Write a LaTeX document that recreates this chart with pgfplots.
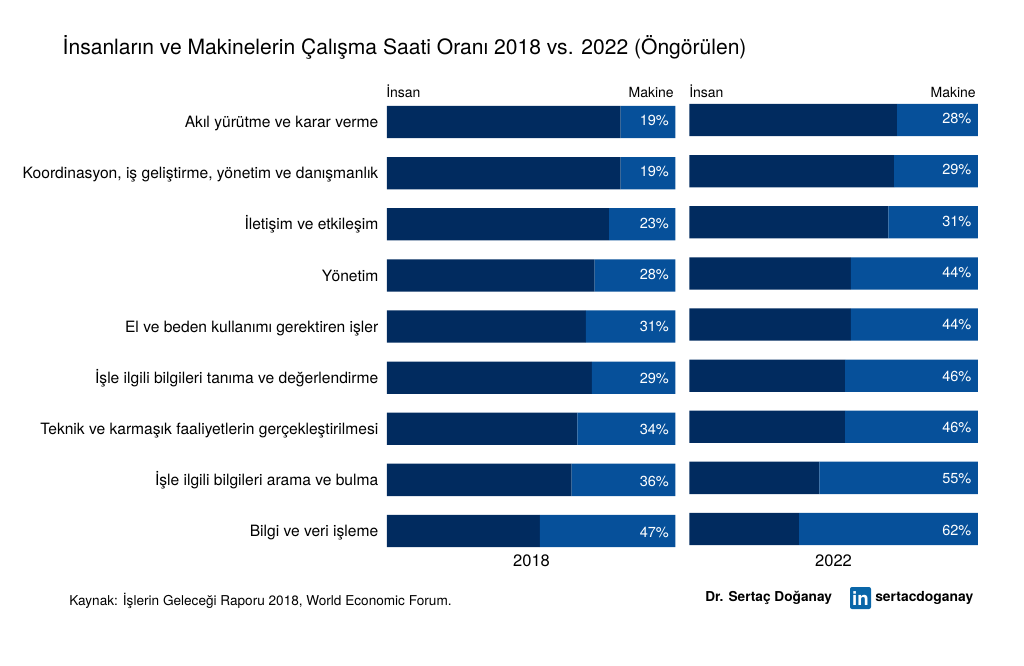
\documentclass[border=0pt]{standalone}
\usepackage{fontspec}
\setmainfont{TeX Gyre Heros}
\usepackage{pgfplots}
\usepackage{pgfplotstable}
\pgfplotsset{compat=1.18}
\definecolor{insan}{HTML}{012B5F}
\definecolor{makine}{HTML}{06509A}
\definecolor{linkedin}{HTML}{0A66A8}

% rows top to bottom; end is a hair-thin segment that carries the label at the bar's right end,
% dy nudges the label vertically (px)
\pgfplotstableread{
row human machine end dy
0 81 19 0.001 -2
1 81 19 0.001 -2
2 77 23 0.001 -1
3 72 28 0.001 -0.5
4 69 31 0.001 0
5 71 29 0.001 0.5
6 66 34 0.001 0.5
7 64 36 0.001 1.3
8 53 47 0.001 1.8
}\dataA
\pgfplotstableread{
row human machine end dy
0 72 28 0.001 -2
1 71 29 0.001 -2
2 69 31 0.001 -1
3 56 44 0.001 -0.7
4 56 44 0.001 0
5 54 46 0.001 0.5
6 54 46 0.001 1
7 45 55 0.001 0.5
8 38 62 0.001 1
}\dataB

\pgfplotsset{
  panel/.style={
    xbar stacked,
    reverse stacked plots=false,
    scale only axis,
    width=216.3pt, height=345pt,
    anchor=north west,
    xmin=0, xmax=100,
    ymin=-0.5, ymax=8.5,
    y dir=reverse,
    bar width=24.2pt,
    axis line style={draw=none},
    major tick length=0pt,
    xtick=\empty,
    clip=false,
  },
  share/.style={
    draw=none, fill=none,
    point meta=explicit,
    visualization depends on={\thisrow{dy} \as \nudge},
    nodes near coords={\pgfmathprintnumber[assume math mode=true]{\pgfplotspointmeta}\%},
    every node near coord/.append style={
      anchor=east, inner sep=0pt, xshift=-4.7pt, yshift={-0.75pt*\nudge},
      text=white, font=\fontsize{10.9}{13}\selectfont,
    },
  },
}

\begin{document}
\begin{tikzpicture}
\path[use as bounding box] (0,0) rectangle (768pt,-498.75pt);

\begin{axis}[panel, at={(290.25pt,-72.4pt)},
  ytick={0,...,8},
  yticklabels={Akıl yürütme ve karar verme,
    {Koordinasyon, iş geliştirme, yönetim ve danışmanlık},
    İletişim ve etkileşim, Yönetim,
    El ve beden kullanımı gerektiren işler,
    İşle ilgili bilgileri tanıma ve değerlendirme,
    Teknik ve karmaşık faaliyetlerin gerçekleştirilmesi,
    İşle ilgili bilgileri arama ve bulma,
    Bilgi ve veri işleme},
  yticklabel style={font=\fontsize{11.7}{14}\selectfont, text height=8.5pt, text depth=2.5pt, xshift=-3pt, yshift=-1.2pt},
]
\addplot[fill=insan,draw=none] table[x=human,y=row] {\dataA};
\addplot[fill=makine,draw=none] table[x=machine,y=row] {\dataA};
\addplot[share] table[x=end,y=row,meta=machine] {\dataA};
\end{axis}

\begin{axis}[panel, at={(517.1pt,-70.9pt)}, ytick=\empty]
\addplot[fill=insan,draw=none] table[x=human,y=row] {\dataB};
\addplot[fill=makine,draw=none] table[x=machine,y=row] {\dataB};
\addplot[share] table[x=end,y=row,meta=machine] {\dataB};
\end{axis}

\begin{scope}[x=0.75pt,y=-0.75pt]
\node[anchor=west,font=\fontsize{15.8}{20}\selectfont] at (58,47) {İnsanların ve Makinelerin Çalışma Saati Oranı 2018 vs. 2022 (Öngörülen)};

\node[anchor=west,inner sep=0pt,font=\fontsize{10.5}{12}\selectfont] at (386,91) {İnsan};
\node[anchor=east,inner sep=0pt,font=\fontsize{10.5}{12}\selectfont] at (674,92) {Makine};
\node[anchor=west,inner sep=0pt,font=\fontsize{10.5}{12}\selectfont] at (689,91) {İnsan};
\node[anchor=east,inner sep=0pt,font=\fontsize{10.5}{12}\selectfont] at (976,92) {Makine};

\node[font=\fontsize{12.4}{14}\selectfont] at (531.5,561) {2018};
\node[font=\fontsize{12.4}{14}\selectfont] at (833.5,561) {2022};

\node[anchor=west,inner sep=0pt,font=\fontsize{10.2}{13}\selectfont] at (69,601) {Kaynak: İşlerin Geleceği Raporu 2018, World Economic Forum.};
\node[anchor=west,inner sep=0pt,font=\fontsize{10.25}{13}\selectfont\bfseries] at (705,598) {Dr. Sertaç Doğanay};
\fill[linkedin,rounded corners=1.5pt] (850,587) rectangle (871,609);
\node[text=white,inner sep=0pt,font=\fontsize{14}{14}\selectfont\bfseries] at (860.5,599) {in};
\node[anchor=west,inner sep=0pt,font=\fontsize{10.4}{13}\selectfont\bfseries] at (875,598) {sertacdoganay};
\end{scope}
\end{tikzpicture}
\end{document}
